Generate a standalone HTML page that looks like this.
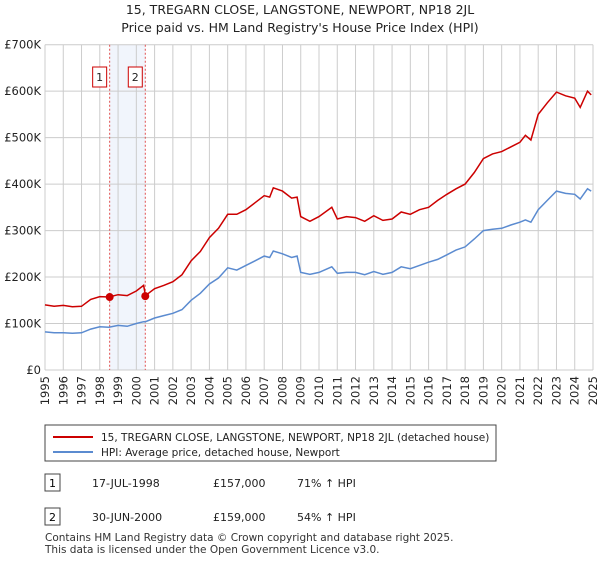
<!DOCTYPE html>
<html><head><meta charset="utf-8"><style>
body{margin:0;background:#fff;font-family:"Liberation Sans","DejaVu Sans",sans-serif;}
svg text{font-family:"DejaVu Sans","Liberation Sans",sans-serif;}
</style></head><body>
<svg id="c" width="600" height="560" xmlns="http://www.w3.org/2000/svg">
<text x="300" y="14" text-anchor="middle" font-size="12.5" fill="#222">15, TREGARN CLOSE, LANGSTONE, NEWPORT, NP18 2JL</text>
<text x="300" y="32" text-anchor="middle" font-size="12.5" fill="#222">Price paid vs. HM Land Registry's House Price Index (HPI)</text>
<g id="grid"></g><g id="marks"></g><g id="axes"></g>
<rect x="45" y="425" width="451" height="36" fill="#fff" stroke="#444"/>
<line x1="53" y1="437" x2="93" y2="437" stroke="#cc0000" stroke-width="2"/>
<text x="101" y="441" font-size="10.5" fill="#222">15, TREGARN CLOSE, LANGSTONE, NEWPORT, NP18 2JL (detached house)</text>
<line x1="53" y1="452" x2="93" y2="452" stroke="#5b8bd0" stroke-width="2"/>
<text x="101" y="456" font-size="10.5" fill="#222">HPI: Average price, detached house, Newport</text>
<g>
<rect x="45" y="474" width="15" height="17" fill="#fff" stroke="#444"/><text x="52.5" y="487" text-anchor="middle" font-size="11">1</text>
<text x="92" y="487" font-size="11" fill="#222">17-JUL-1998</text><text x="213" y="487" font-size="11" fill="#222">£157,000</text><text x="297" y="487" font-size="11" fill="#222">71% ↑ HPI</text></g>
<g>
<rect x="45" y="508" width="15" height="17" fill="#fff" stroke="#444"/><text x="52.5" y="521" text-anchor="middle" font-size="11">2</text>
<text x="92" y="521" font-size="11" fill="#222">30-JUN-2000</text><text x="213" y="521" font-size="11" fill="#222">£159,000</text><text x="297" y="521" font-size="11" fill="#222">54% ↑ HPI</text></g>
<text x="45" y="541" font-size="10.5" fill="#333">Contains HM Land Registry data © Crown copyright and database right 2025.</text>
<text x="45" y="553" font-size="10.5" fill="#333">This data is licensed under the Open Government Licence v3.0.</text>
</svg>
<script>
const priceYears=[1995,1995.5,1996,1996.5,1997,1997.5,1998,1998.5,1999,1999.5,2000,2000.4,2000.5,2001,2001.5,2002,2002.5,2003,2003.5,2004,2004.5,2005,2005.5,2006,2006.5,2007,2007.3,2007.5,2008,2008.5,2008.8,2009,2009.5,2010,2010.7,2011,2011.5,2012,2012.5,2013,2013.5,2014,2014.5,2015,2015.5,2016,2016.5,2017,2017.5,2018,2018.5,2019,2019.5,2020,2020.5,2021,2021.3,2021.6,2022,2022.5,2023,2023.5,2024,2024.3,2024.7,2024.9];
const priceValues=[140,137,139,136,137,152,158,157,162,160,170,182,160,175,182,190,205,235,255,285,305,335,335,345,360,375,372,392,385,370,372,330,320,330,350,325,330,328,320,332,322,325,340,335,345,350,365,378,390,400,425,455,465,470,480,490,505,495,550,575,598,590,585,565,600,592];
const hpiValues=[82,80,80,79,80,88,93,92,96,94,100,104,104,112,117,122,130,150,165,185,198,220,215,225,235,245,242,256,250,242,245,210,206,210,222,208,210,210,205,212,206,210,222,218,225,232,238,248,258,265,282,300,303,305,312,318,323,318,345,365,385,380,378,368,390,385];
const saleDates=[1998.54,2000.49];
const salePrices=[157,159];
const saleLabels=["1","2"];
const yTicks=[0,100,200,300,400,500,600,700];
const yTickLabels=["£0","£100K","£200K","£300K","£400K","£500K","£600K","£700K"];
const xTicks=[1995,1996,1997,1998,1999,2000,2001,2002,2003,2004,2005,2006,2007,2008,2009,2010,2011,2012,2013,2014,2015,2016,2017,2018,2019,2020,2021,2022,2023,2024,2025];
const NS="http://www.w3.org/2000/svg";
const X0=45,X1=593,Y0=370,Y1=44.7;
const xs=v=>X0+(v-1995)/30*(X1-X0);
const ys=v=>Y0-v/700*(Y0-Y1);
function mk(p,t,a){const e=document.createElementNS(NS,t);for(const k in a)e.setAttribute(k,a[k]);p.appendChild(e);return e;}
const grid=document.getElementById('grid'),marks=document.getElementById('marks'),axes=document.getElementById('axes');
const band=mk(grid,'rect',{x:xs(saleDates[0]),y:Y1,width:xs(saleDates[1])-xs(saleDates[0]),height:Y0-Y1,fill:'#f1f5fc'});


xTicks.forEach(t=>{const l=mk(grid,'line',{x1:xs(t),x2:xs(t),y1:Y1,y2:Y0,stroke:'#cccccc'});


const tx=mk(axes,'text',{x:0,y:0,'font-size':11.5,fill:'#222','text-anchor':'end',transform:`translate(${xs(t)+4},${Y0+6}) rotate(-90)`});tx.textContent=t;

});
yTicks.forEach((t,i)=>{const l=mk(grid,'line',{x1:X0,x2:X1,y1:ys(t),y2:ys(t),stroke:'#cccccc'});


const tx=mk(axes,'text',{x:X0-4,y:ys(t)+4,'font-size':11.5,fill:'#222','text-anchor':'end'});tx.textContent=yTickLabels[i];

});
saleDates.forEach((d,i)=>{const l=mk(grid,'line',{x1:xs(d),x2:xs(d),y1:Y1,y2:Y0,stroke:'#e05050','stroke-dasharray':'2,2'});


const r=mk(axes,'rect',{x:xs(d)-17,y:67,width:14,height:20,fill:'#fff',stroke:'#cc0000'});


const t=mk(axes,'text',{x:xs(d)-10,y:81,'font-size':11,'text-anchor':'middle',fill:'#222'});t.textContent=saleLabels[i];

});
const path=vals=>vals.map((v,i)=>(i?'L':'M')+xs(priceYears[i]).toFixed(1)+','+ys(v).toFixed(1)).join('');
const hp=mk(marks,'path',{d:path(hpiValues),fill:'none',stroke:'#5b8bd0','stroke-width':1.5});


const pp=mk(marks,'path',{d:path(priceValues),fill:'none',stroke:'#cc0000','stroke-width':1.5});


saleDates.forEach((d,i)=>{const c=mk(marks,'circle',{cx:xs(d),cy:ys(salePrices[i]),r:4,fill:'#cc0000'});

});
</script>
</body></html>
